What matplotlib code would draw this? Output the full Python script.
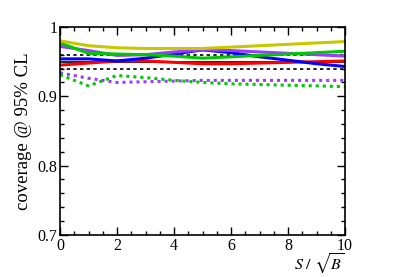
import numpy as np
import matplotlib.pyplot as plt
from matplotlib.ticker import MultipleLocator, FormatStrFormatter

plt.rcParams['font.family'] = ['Liberation Serif', 'DejaVu Serif']
plt.rcParams['mathtext.fontset'] = 'stix'

# S/sqrt(B) points
x = [0, 1, 2, 3, 4, 5, 6, 7, 8, 9, 10]

yellow = [0.980, 0.973, 0.970, 0.969, 0.969, 0.969, 0.971, 0.973, 0.975, 0.977, 0.979]
green = [0.977, 0.962, 0.961, 0.960, 0.958, 0.955, 0.957, 0.959, 0.961, 0.963, 0.965]
purple = [0.972, 0.966, 0.959, 0.960, 0.964, 0.967, 0.966, 0.964, 0.962, 0.960, 0.958]
blue = [0.954, 0.954, 0.951, 0.955, 0.961, 0.967, 0.963, 0.957, 0.952, 0.947, 0.943]
red = [0.945, 0.948, 0.951, 0.951, 0.949, 0.947, 0.947, 0.948, 0.949, 0.950, 0.951]
purple_dot = [0.934, 0.926, 0.920, 0.921, 0.922, 0.923, 0.923, 0.923, 0.923, 0.923, 0.923]
green_dot = [0.931, 0.915, 0.930, 0.927, 0.923, 0.920, 0.918, 0.917, 0.916, 0.915, 0.914]

nominal = 0.95
band = [0.94, 0.96]

fig = plt.figure(figsize=(4.07, 2.77), dpi=100)
ax = fig.add_axes([0.1474, 0.152, 0.7006, 0.7505])

ax.axhline(nominal, color='black', lw=1.2, zorder=1)
for b in band:
    ax.axhline(b, color='black', lw=1.2, ls=(0, (2, 2)), zorder=1)

ax.plot(x, red, color='#ff0000', lw=2.2)
ax.plot(x, blue, color='#0000ff', lw=2.2)
ax.plot(x, purple, color='#9a3cff', lw=2.2)
ax.plot(x, green, color='#00c800', lw=2.2)
ax.plot(x, yellow, color='#c8c800', lw=2.2)
ax.plot(x, purple_dot, color='#9a3cff', lw=2.2, ls=(0, (1, 1.3)))
ax.plot(x, green_dot, color='#00c800', lw=2.2, ls=(0, (1, 1.3)))

ax.set_xlim(0, 10)
ax.set_ylim(0.7, 1.0)
ax.xaxis.set_major_locator(MultipleLocator(2))
ax.xaxis.set_minor_locator(MultipleLocator(0.5))
ax.yaxis.set_major_locator(MultipleLocator(0.1))
ax.yaxis.set_minor_locator(MultipleLocator(0.02))
ax.yaxis.set_major_formatter(FormatStrFormatter('%g'))
ax.xaxis.set_major_formatter(FormatStrFormatter('%g'))
ax.tick_params(which='both', direction='in', top=True, right=True, labelsize=11.5, width=1)
ax.tick_params(which='major', length=6, pad=2)
ax.tick_params(which='minor', length=3)
for s in ax.spines.values():
    s.set_linewidth(1.2)

ax.set_ylabel('coverage @ 95% CL', fontsize=13.5, labelpad=4)
ax.set_xlabel(r'$S\ /\ \sqrt{B}$', fontsize=11.5, ha='right', va='top')
ax.xaxis.set_label_coords(1.0, -0.083)

fig.savefig('out.png', dpi=100)
